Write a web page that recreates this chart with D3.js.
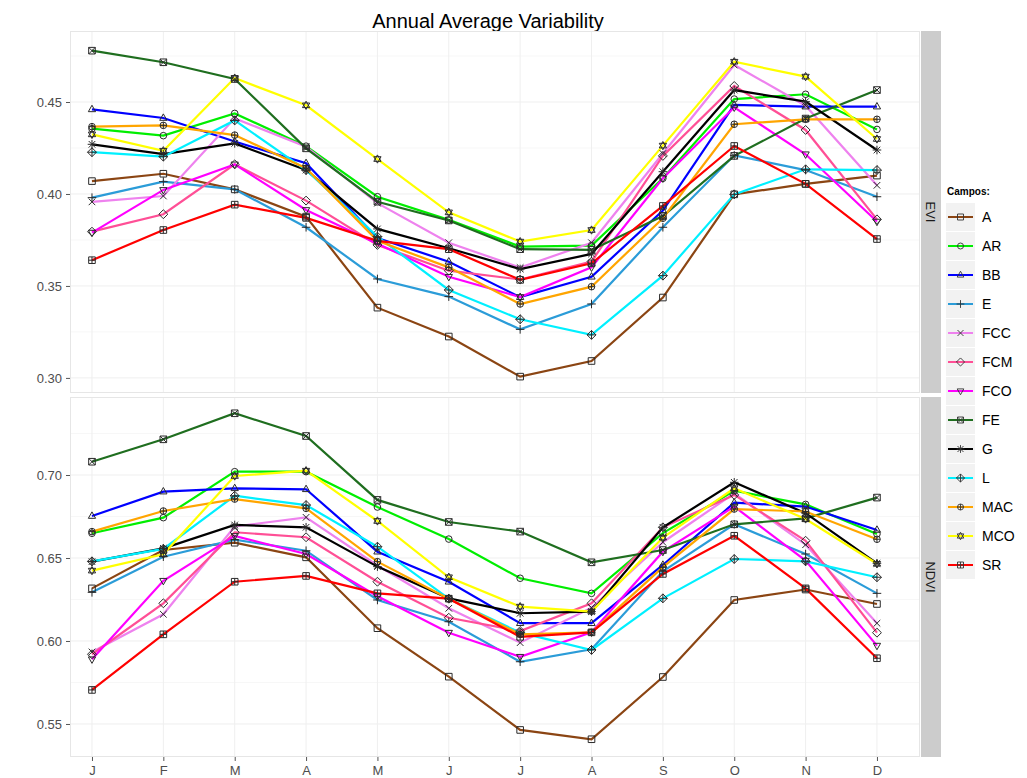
<!DOCTYPE html>
<html>
<head>
<meta charset="utf-8">
<script src="https://cdn.jsdelivr.net/npm/d3@7"></script>
<style>
  body { margin: 0; background: #fff; }
  svg { display: block; font-family: "Liberation Sans", Arial, sans-serif; }
</style>
</head>
<body>
<svg id="chart" width="1027" height="778"></svg>
<script>
var months = ['J', 'F', 'M', 'A', 'M', 'J', 'J', 'A', 'S', 'O', 'N', 'D'];
var campos = ['A', 'AR', 'BB', 'E', 'FCC', 'FCM', 'FCO', 'FE', 'G', 'L', 'MAC', 'MCO', 'SR'];
var colors = ['#8b4513', '#00ee00', '#0000ff', '#2b9cd8', '#ee82ee', '#ff4f96', '#ff00ff',
              '#1f6e1f', '#000000', '#00f0ff', '#ffa500', '#ffff00', '#ff0000'];

// EVI values per campo
var eviA   = [0.407, 0.411, 0.4025, 0.3877, 0.3382, 0.3225, 0.3007, 0.3092, 0.3437, 0.3998, 0.4055, 0.410];
var eviAR  = [0.4355, 0.4317, 0.4438, 0.426, 0.3985, 0.3859, 0.3714, 0.3719, 0.4085, 0.4516, 0.4542, 0.4351];
var eviBB  = [0.446, 0.4413, 0.4285, 0.4167, 0.376, 0.3632, 0.3439, 0.355, 0.391, 0.4484, 0.4475, 0.4475];
var eviE   = [0.398, 0.4067, 0.4025, 0.3819, 0.3538, 0.3442, 0.3264, 0.3402, 0.3819, 0.421, 0.413, 0.3985];
var eviFCC = [0.3957, 0.3989, 0.4411, 0.4257, 0.395, 0.3735, 0.36, 0.3735, 0.422, 0.4701, 0.448, 0.4047];
var eviFCM = [0.3795, 0.389, 0.4161, 0.3964, 0.3723, 0.3583, 0.3535, 0.3632, 0.4207, 0.4587, 0.4348, 0.3862];
var eviFCO = [0.379, 0.4022, 0.4161, 0.3913, 0.373, 0.355, 0.344, 0.3601, 0.4085, 0.4471, 0.4216, 0.385];
var eviFE  = [0.4779, 0.4716, 0.4625, 0.4248, 0.3958, 0.3856, 0.370, 0.3696, 0.388, 0.4207, 0.441, 0.4565];
var eviG   = [0.427, 0.4217, 0.4275, 0.413, 0.381, 0.3705, 0.3592, 0.3674, 0.4121, 0.4565, 0.4502, 0.4239];
var eviL   = [0.4227, 0.4203, 0.440, 0.413, 0.3768, 0.3478, 0.3319, 0.3234, 0.3556, 0.3998, 0.4134, 0.413];
var eviMAC = [0.4366, 0.4373, 0.432, 0.414, 0.3745, 0.3601, 0.3402, 0.3496, 0.3868, 0.4379, 0.4406, 0.4406];
var eviMCO = [0.4324, 0.4235, 0.463, 0.4482, 0.419, 0.390, 0.3741, 0.3804, 0.4263, 0.4719, 0.4638, 0.4299];
var eviSR  = [0.364, 0.3804, 0.3942, 0.387, 0.3745, 0.370, 0.3533, 0.3623, 0.3935, 0.4261, 0.4055, 0.3755];

// NDVI values per campo
var ndviA   = [0.6317, 0.6548, 0.6592, 0.6504, 0.6077, 0.5785, 0.5464, 0.5408, 0.5783, 0.6247, 0.631, 0.6223];
var ndviAR  = [0.6649, 0.6743, 0.702, 0.702, 0.6807, 0.6614, 0.6378, 0.6287, 0.665, 0.6905, 0.6823, 0.6645];
var ndviBB  = [0.6753, 0.690, 0.692, 0.6914, 0.6538, 0.6357, 0.6107, 0.6107, 0.6458, 0.6833, 0.681, 0.6669];
var ndviE   = [0.6293, 0.6508, 0.661, 0.6544, 0.6247, 0.6116, 0.5875, 0.595, 0.642, 0.6703, 0.6524, 0.6287];
var ndviFCC = [0.5934, 0.6161, 0.669, 0.6745, 0.6455, 0.6197, 0.599, 0.620, 0.6595, 0.689, 0.658, 0.6107];
var ndviFCM = [0.592, 0.6227, 0.6655, 0.6625, 0.6357, 0.614, 0.606, 0.6227, 0.6685, 0.688, 0.6604, 0.605];
var ndviFCO = [0.589, 0.6363, 0.6633, 0.6524, 0.627, 0.605, 0.5905, 0.6052, 0.6538, 0.681, 0.6484, 0.5972];
var ndviFE  = [0.708, 0.7215, 0.7372, 0.7235, 0.685, 0.6717, 0.6659, 0.6474, 0.6548, 0.6703, 0.6739, 0.6864];
var ndviG   = [0.6478, 0.6558, 0.6699, 0.6685, 0.6448, 0.6257, 0.6167, 0.6177, 0.6685, 0.6956, 0.677, 0.6468];
var ndviL   = [0.648, 0.6555, 0.6875, 0.6819, 0.6568, 0.6255, 0.605, 0.5946, 0.6257, 0.6494, 0.648, 0.6384];
var ndviMAC = [0.6659, 0.6783, 0.6855, 0.6799, 0.6478, 0.6255, 0.604, 0.6052, 0.6445, 0.6795, 0.678, 0.6613];
var ndviMCO = [0.6424, 0.6522, 0.6994, 0.7026, 0.6723, 0.6384, 0.6207, 0.6177, 0.6623, 0.692, 0.6735, 0.6465];
var ndviSR  = [0.5705, 0.604, 0.6357, 0.6392, 0.6287, 0.6255, 0.6025, 0.6052, 0.6404, 0.6634, 0.6317, 0.5896];

var eviTicks = [0.30, 0.35, 0.40, 0.45];
var ndviTicks = [0.55, 0.60, 0.65, 0.70];

var eviSeries = [eviA, eviAR, eviBB, eviE, eviFCC, eviFCM, eviFCO, eviFE, eviG, eviL, eviMAC, eviMCO, eviSR];
var ndviSeries = [ndviA, ndviAR, ndviBB, ndviE, ndviFCC, ndviFCM, ndviFCO, ndviFE, ndviG, ndviL, ndviMAC, ndviMCO, ndviSR];

var svg = d3.select('#chart');

var left = 70, right = 920;
var xScale = d3.scaleLinear()
  .domain([-0.308, 11.603])
  .range([left, right]);

var panels = [
  { name: 'EVI', series: eviSeries, ticks: eviTicks, top: 31, bottom: 393, domain: [0.2918, 0.4886] },
  { name: 'NDVI', series: ndviSeries, ticks: ndviTicks, top: 397, bottom: 757, domain: [0.5301, 0.747] }
];

// marker shapes, ggplot style 0..12
function shapePath(i, r) {
  var p = d3.path();
  function square() { p.rect(-r, -r, 2 * r, 2 * r); }
  function circle() { p.moveTo(r, 0); p.arc(0, 0, r, 0, 2 * Math.PI); }
  function plus(s) { p.moveTo(-s, 0); p.lineTo(s, 0); p.moveTo(0, -s); p.lineTo(0, s); }
  function cross(s) { p.moveTo(-s, -s); p.lineTo(s, s); p.moveTo(-s, s); p.lineTo(s, -s); }
  function triUp() { p.moveTo(0, -r * 1.25); p.lineTo(r * 1.1, r * 0.7); p.lineTo(-r * 1.1, r * 0.7); p.closePath(); }
  function triDown() { p.moveTo(0, r * 1.25); p.lineTo(r * 1.1, -r * 0.7); p.lineTo(-r * 1.1, -r * 0.7); p.closePath(); }
  function diamond() { var d = r * 1.35; p.moveTo(0, -d); p.lineTo(d, 0); p.lineTo(0, d); p.lineTo(-d, 0); p.closePath(); }
  switch (i) {
    case 0: square(); break;
    case 1: circle(); break;
    case 2: triUp(); break;
    case 3: plus(r * 1.3); break;
    case 4: cross(r); break;
    case 5: diamond(); break;
    case 6: triDown(); break;
    case 7: square(); cross(r); break;
    case 8: plus(r * 1.3); cross(r); break;
    case 9: diamond(); plus(r * 1.35); break;
    case 10: circle(); plus(r); break;
    case 11: triUp(); triDown(); break;
    case 12: square(); plus(r); break;
  }
  return p.toString();
}

// title
svg.append('text')
  .attr('x', 488)
  .attr('y', 28)
  .attr('text-anchor', 'middle')
  .attr('font-size', '20px')
  .attr('fill', '#000')
  .text('Annual Average Variability');

panels.forEach(function (pn) {
  var yScale = d3.scaleLinear()
    .domain(pn.domain)
    .range([pn.bottom, pn.top]);

  var g = svg.append('g');

  g.append('rect')
    .attr('x', left).attr('y', pn.top)
    .attr('width', right - left).attr('height', pn.bottom - pn.top)
    .attr('fill', '#fff');

  // minor grid
  var minor = pn.ticks.map(function (t) { return t + 0.025; }).concat([pn.ticks[0] - 0.025]);
  g.selectAll('.minor')
    .data(minor.filter(function (t) { return t > pn.domain[0] && t < pn.domain[1]; }))
    .enter().append('line')
    .attr('x1', left).attr('x2', right)
    .attr('y1', function (d) { return yScale(d); })
    .attr('y2', function (d) { return yScale(d); })
    .attr('stroke', '#f7f7f7').attr('stroke-width', 1);

  // major grid
  g.selectAll('.hgrid')
    .data(pn.ticks)
    .enter().append('line')
    .attr('x1', left).attr('x2', right)
    .attr('y1', function (d) { return yScale(d); })
    .attr('y2', function (d) { return yScale(d); })
    .attr('stroke', '#efefef').attr('stroke-width', 1);

  g.selectAll('.vgrid')
    .data(d3.range(months.length))
    .enter().append('line')
    .attr('x1', function (d) { return xScale(d); })
    .attr('x2', function (d) { return xScale(d); })
    .attr('y1', pn.top).attr('y2', pn.bottom)
    .attr('stroke', '#efefef').attr('stroke-width', 1);

  g.append('rect')
    .attr('x', left + 0.5).attr('y', pn.top + 0.5)
    .attr('width', right - left - 1).attr('height', pn.bottom - pn.top - 1)
    .attr('fill', 'none').attr('stroke', '#e6e6e6');

  // y axis
  var yAxis = d3.axisLeft(yScale)
    .tickValues(pn.ticks)
    .tickFormat(d3.format('.2f'))
    .tickSize(4)
    .tickPadding(4);
  var ya = g.append('g')
    .attr('transform', 'translate(' + left + ',0)')
    .call(yAxis);
  ya.select('.domain').remove();
  ya.selectAll('line').attr('stroke', '#555');
  ya.selectAll('text').attr('font-size', '13px').attr('fill', '#4d4d4d')
    .attr('font-family', '"Liberation Sans", Arial, sans-serif');

  // strip
  g.append('rect')
    .attr('x', right + 1).attr('y', pn.top)
    .attr('width', 20).attr('height', pn.bottom - pn.top)
    .attr('fill', '#cccccc');
  g.append('text')
    .attr('transform', 'translate(' + (right + 6) + ',' + ((pn.top + pn.bottom) / 2) + ') rotate(90)')
    .attr('text-anchor', 'middle')
    .attr('font-size', '13px')
    .attr('fill', '#1a1a1a')
    .text(pn.name);

  var line = d3.line()
    .x(function (d, i) { return xScale(i); })
    .y(function (d) { return yScale(d); });

  g.selectAll('.series')
    .data(pn.series)
    .enter().append('path')
    .attr('d', line)
    .attr('fill', 'none')
    .attr('stroke', function (d, i) { return colors[i]; })
    .attr('stroke-width', 2.2);

  pn.series.forEach(function (vals, si) {
    g.selectAll('.pt' + si)
      .data(vals)
      .enter().append('path')
      .attr('transform', function (d, i) { return 'translate(' + xScale(i) + ',' + yScale(d) + ')'; })
      .attr('d', shapePath(si, 3.3))
      .attr('fill', 'none')
      .attr('stroke', '#2a2a2a')
      .attr('stroke-width', 1);
  });
});

// x axis at bottom of the lower panel
var xAxis = d3.axisBottom(xScale)
  .tickValues(d3.range(months.length))
  .tickFormat(function (i) { return months[i]; })
  .tickSize(4)
  .tickPadding(5);
var xa = svg.append('g')
  .attr('transform', 'translate(0,' + panels[1].bottom + ')')
  .call(xAxis);
xa.select('.domain').remove();
xa.selectAll('line').attr('stroke', '#555');
xa.selectAll('text').attr('font-size', '13px').attr('fill', '#4d4d4d')
  .attr('font-family', '"Liberation Sans", Arial, sans-serif');

// legend
var lx = 946, ly = 203, step = 29;
var legend = svg.append('g');
legend.append('text')
  .attr('x', lx + 1).attr('y', ly - 8)
  .attr('font-size', '10px').attr('font-weight', 'bold')
  .attr('fill', '#000')
  .text('Campos:');

var keys = legend.selectAll('.key')
  .data(campos)
  .enter().append('g')
  .attr('transform', function (d, i) { return 'translate(' + lx + ',' + (ly + i * step) + ')'; });
keys.append('rect')
  .attr('width', 29).attr('height', step - 1)
  .attr('fill', '#f2f2f2');
keys.append('line')
  .attr('x1', 2).attr('x2', 27)
  .attr('y1', (step - 1) / 2).attr('y2', (step - 1) / 2)
  .attr('stroke', function (d, i) { return colors[i]; })
  .attr('stroke-width', 2);
keys.append('path')
  .attr('transform', 'translate(14.5,' + (step - 1) / 2 + ')')
  .attr('d', function (d, i) { return shapePath(i, 3); })
  .attr('fill', 'none').attr('stroke', '#333').attr('stroke-width', 0.9);
keys.append('text')
  .attr('x', 36).attr('y', (step - 1) / 2 + 5)
  .attr('font-size', '14px').attr('fill', '#000')
  .text(function (d) { return d; });
</script>
</body>
</html>
